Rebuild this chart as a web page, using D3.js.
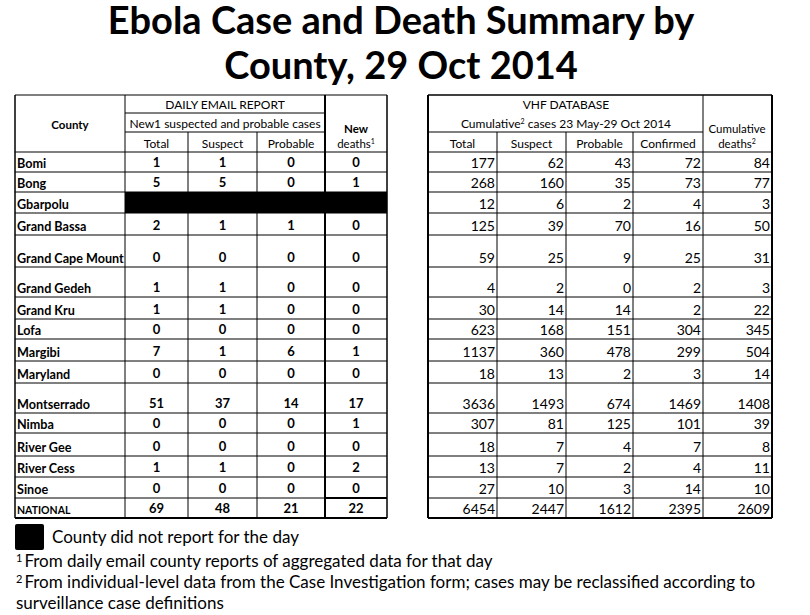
<!DOCTYPE html>
<html><head><meta charset="utf-8">
<script src="https://cdn.jsdelivr.net/npm/d3@7"></script>
<style>body{margin:0;background:#fff}</style>
</head><body><div id="chart"></div>
<script>
// data
var counties = ["Bomi","Bong","Gbarpolu","Grand Bassa","Grand Cape Mount","Grand Gedeh","Grand Kru","Lofa","Margibi","Maryland","Montserrado","Nimba","River Gee","River Cess","Sinoe","NATIONAL"];
var dailyTotal    = [1,5,null,2,0,1,1,0,7,0,51,0,0,1,0,69];
var dailySuspect  = [1,5,null,1,0,1,1,0,1,0,37,0,0,1,0,48];
var dailyProbable = [0,0,null,1,0,0,0,0,6,0,14,0,0,0,0,21];
var newDeaths     = [0,1,null,0,0,0,0,0,1,0,17,1,0,2,0,22];
var vhfTotal     = [177,268,12,125,59,4,30,623,1137,18,3636,307,18,13,27,6454];
var vhfSuspect   = [62,160,6,39,25,2,14,168,360,13,1493,81,7,7,10,2447];
var vhfProbable  = [43,35,2,70,9,0,14,151,478,2,674,125,4,2,3,1612];
var vhfConfirmed = [72,73,4,16,25,2,2,304,299,3,1469,101,7,4,14,2395];
var cumDeaths    = [84,77,3,50,31,3,22,345,504,14,1408,39,8,11,10,2609];

var W = 810, H = 615;
var svg = d3.select("#chart").append("svg").attr("width", W).attr("height", H)
  .style("font-family", "Lato, 'Open Sans', sans-serif");

// title
svg.append("text").attr("x", 401).attr("y", 34).attr("text-anchor", "middle")
  .style("font-size", "38px").style("font-weight", "bold").text("Ebola Case and Death Summary by");
svg.append("text").attr("x", 401).attr("y", 79).attr("text-anchor", "middle")
  .style("font-size", "38px").style("font-weight", "bold").text("County, 29 Oct 2014");

// row layout (row heights vary like the original)
var rowEdges = [152,172,192,213,235,267,297,319,339,361,383,413,433,456,477,498,518];
var y = d3.scaleOrdinal().domain(counties).range(rowEdges.slice(0, -1));
var yBottom = d3.scaleOrdinal().domain(counties).range(rowEdges.slice(1));

var leftEdges = [15,125,188,257,325,387];
var rightEdges = [428,497,566,633,703,772];
var tableTop = 95;

function line(x1, y1, x2, y2, w) {
  svg.append("line").attr("x1", x1).attr("y1", y1).attr("x2", x2).attr("y2", y2)
    .attr("stroke", "#000").attr("stroke-width", w || 1);
}

// ---- left table
var lx0 = leftEdges[0], lx1 = leftEdges[5];
line(lx0, tableTop, lx1, tableTop);
line(leftEdges[1], 113, leftEdges[4], 113);
line(leftEdges[1], 132, leftEdges[4], 132);
rowEdges.forEach(function(e) { line(lx0, e, lx1, e); });
line(lx0, tableTop, lx0, 518, 1.5);
line(leftEdges[1], tableTop, leftEdges[1], 518);
leftEdges.slice(2, 4).forEach(function(e) { line(e, 132, e, 518); });
line(leftEdges[4], tableTop, leftEdges[4], 518, 2);
line(lx1, tableTop, lx1, 518, 1.5);
line(leftEdges[4], 498, lx1, 498, 2);
line(lx0, 518, lx1, 518, 2);

svg.append("text").attr("x", 225).attr("y", 109).attr("text-anchor", "middle").style("font-size", "12px").text("DAILY EMAIL REPORT");
svg.append("text").attr("x", 225).attr("y", 128).attr("text-anchor", "middle").style("font-size", "12px").text("New1 suspected and probable cases");
svg.append("text").attr("x", 70).attr("y", 129).attr("text-anchor", "middle").style("font-size", "11.5px").style("font-weight", "bold").text("County");
svg.append("text").attr("x", 356).attr("y", 133).attr("text-anchor", "middle").style("font-size", "11.5px").style("font-weight", "bold").text("New");
var nd = svg.append("text").attr("x", 356).attr("y", 148).attr("text-anchor", "middle").style("font-size", "11.5px").text("deaths");
nd.append("tspan").attr("dy", -4).style("font-size", "7px").text("1");
["Total","Suspect","Probable"].forEach(function(t, i) {
  svg.append("text").attr("x", (leftEdges[i+1] + leftEdges[i+2]) / 2).attr("y", 148)
    .attr("text-anchor", "middle").style("font-size", "12px").text(t);
});

var leftCols = [dailyTotal, dailySuspect, dailyProbable, newDeaths];
counties.forEach(function(c, r) {
  var yb = yBottom(c);
  svg.append("text").attr("x", lx0 + 2).attr("y", yb - 4)
    .style("font-size", c === "NATIONAL" ? "10.5px" : "12.6px").style("font-weight", "bold").text(c);
  if (dailyTotal[r] === null) {
    svg.append("rect").attr("x", leftEdges[1]).attr("y", y(c)).attr("width", lx1 - leftEdges[1])
      .attr("height", yb - y(c)).attr("fill", "#000");
    return;
  }
  leftCols.forEach(function(arr, i) {
    svg.append("text").attr("x", (leftEdges[i+1] + leftEdges[i+2]) / 2).attr("y", yb - 5)
      .attr("text-anchor", "middle").style("font-size", "13px").style("font-weight", "bold").text(arr[r]);
  });
});

// ---- right table
var rx0 = rightEdges[0], rx1 = rightEdges[5];
line(rx0, tableTop, rx1, tableTop, 1.5);
line(rx0, 132, rightEdges[4], 132);
rowEdges.forEach(function(e) { line(rx0, e, rx1, e); });
line(rx0, tableTop, rx0, 518, 2);
rightEdges.slice(1, 4).forEach(function(e) { line(e, 132, e, 518); });
line(rightEdges[4], tableTop, rightEdges[4], 518);
line(rx1, tableTop, rx1, 518, 2);
line(rx0, 518, rx1, 518, 2);

svg.append("text").attr("x", 566).attr("y", 109).attr("text-anchor", "middle").style("font-size", "12px").text("VHF DATABASE");
var cum = svg.append("text").attr("x", 566).attr("y", 128).attr("text-anchor", "middle").style("font-size", "12px").text("Cumulative");
cum.append("tspan").attr("dy", -4).style("font-size", "7px").text("2");
cum.append("tspan").attr("dy", 4).text(" cases 23 May-29 Oct 2014");
svg.append("text").attr("x", 737).attr("y", 133).attr("text-anchor", "middle").style("font-size", "11.5px").text("Cumulative");
var cd = svg.append("text").attr("x", 737).attr("y", 148).attr("text-anchor", "middle").style("font-size", "11.5px").text("deaths");
cd.append("tspan").attr("dy", -4).style("font-size", "7px").text("2");
["Total","Suspect","Probable","Confirmed"].forEach(function(t, i) {
  svg.append("text").attr("x", (rightEdges[i] + rightEdges[i+1]) / 2).attr("y", 148)
    .attr("text-anchor", "middle").style("font-size", "12px").text(t);
});

var rightCols = [vhfTotal, vhfSuspect, vhfProbable, vhfConfirmed, cumDeaths];
counties.forEach(function(c, r) {
  var yb = yBottom(c);
  rightCols.forEach(function(arr, i) {
    svg.append("text").attr("x", rightEdges[i+1] - 2).attr("y", yb - 4)
      .attr("text-anchor", "end").style("font-size", "14px").text(arr[r]);
  });
});

// ---- legend and footnotes
svg.append("rect").attr("x", 15).attr("y", 524).attr("width", 29).attr("height", 26).attr("rx", 2).attr("fill", "#000");
svg.append("text").attr("x", 52).attr("y", 543).style("font-size", "17px").text("County did not report for the day");
var f1 = svg.append("text").attr("x", 16).attr("y", 567).style("font-size", "17px");
f1.append("tspan").attr("dy", -5).style("font-size", "11px").text("1");
f1.append("tspan").attr("dy", 5).attr("dx", 2).text("From daily email county reports of aggregated data for that day");
var f2 = svg.append("text").attr("x", 16).attr("y", 588).style("font-size", "17px");
f2.append("tspan").attr("dy", -5).style("font-size", "11px").text("2");
f2.append("tspan").attr("dy", 5).attr("dx", 2).text("From individual-level data from the Case Investigation form; cases may be reclassified according to");
svg.append("text").attr("x", 16).attr("y", 609).style("font-size", "17px").text("surveillance case definitions");
</script></body></html>
